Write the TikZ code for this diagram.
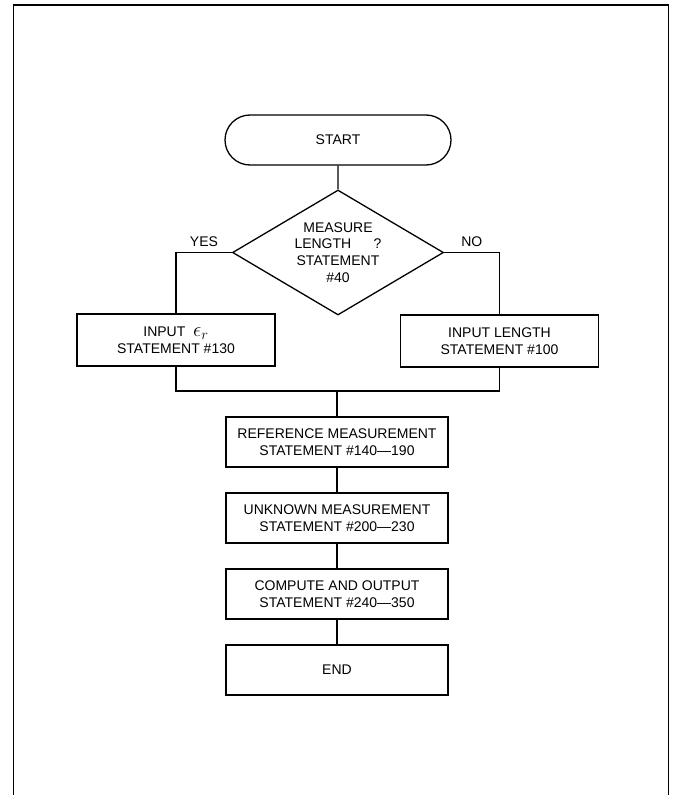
\documentclass[tikz,border=0pt]{standalone}
\usepackage{fontspec}
\setmainfont{Liberation Sans}
\usetikzlibrary{shapes.geometric,shapes.misc}

\begin{document}
\begin{tikzpicture}[x=1pt,y=-1pt,line width=1.3pt,
        every node/.style={font=\fontsize{14}{16.7}\selectfont,align=center,inner sep=0pt},
        terminal/.style={draw,rounded rectangle,minimum width=226pt,minimum height=50pt},
        stepbox/.style={draw,rectangle,minimum width=222pt,minimum height=50pt},
        inputbox/.style={draw,rectangle,minimum width=198pt,minimum height=52pt},
        decision/.style={draw,diamond,aspect=1.69,minimum width=211pt,minimum height=125pt}]

                    \useasboundingbox (0,0) rectangle (672,795);
                    % frame, open at the bottom
                    \draw[line width=1.6pt] (13.5,795) -- (13.5,5) -- (668.5,5) -- (668.5,795);

                    % nodes
                    \node[terminal] (start) at (338,140) {START};
                    \node[decision] (measure) at (338,252.5) {MEASURE\\LENGTH\hspace{1.6em}?\\STATEMENT\\\#40};
                    \node[inputbox] (inpeps) at (176,340) {INPUT\ \ {\fontsize{20}{16.7}\selectfont$\epsilon_r$}\\STATEMENT \#130};
                    \node[inputbox] (inplen) at (499.5,341) {INPUT LENGTH\\STATEMENT \#100};
                    \coordinate (join) at (337,391);
                    \node[stepbox] (refmeas) at (337,442) {REFERENCE MEASUREMENT\\STATEMENT \#140---190};
                    \node[stepbox] (unkmeas) at (337,518) {UNKNOWN MEASUREMENT\\STATEMENT \#200---230};
                    \node[stepbox] (compute) at (337,594) {COMPUTE AND OUTPUT\\STATEMENT \#240---350};
                    \node[stepbox] (stop) at (337,670) {END};

                    % connectors
                    \draw (start) -- (measure);
                    \draw (measure.west) -| (inpeps.north) node[pos=0.25,above=5pt] {YES};
                    \draw (measure.east) -| (inplen.north) node[pos=0.25,above=5pt] {NO};
                    \draw (inpeps.south) |- (join) -| (inplen.south);
                    \draw (join) -- (refmeas);
                    \draw (refmeas) -- (unkmeas);
                    \draw (unkmeas) -- (compute);
                    \draw (compute) -- (stop);

                \end{tikzpicture}
\end{document}
